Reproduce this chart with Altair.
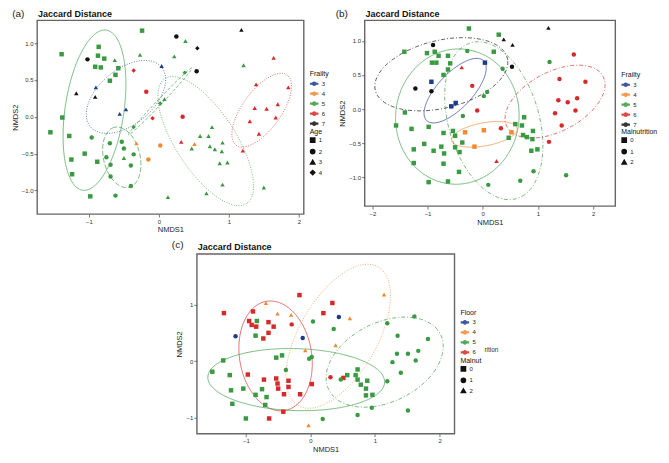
import altair as alt
import numpy as np
import pandas as pd

FONT = "Liberation Sans"
COLORS = {"3": "#1d3b8b", "4": "#f08a35", "5": "#3a9a41", "6": "#d62a2a", "7": "#111111"}

# ---------------- Panel (a): colour = Frailty, shape/linetype = Age ----------------
A_X = [-0.24, -1.39, -0.86, -0.87, -0.78, -0.91, -0.83, -0.58, -0.62, -0.70,
       -1.02, -0.63, -0.27, -0.36, 0.04, -0.90, -1.18, -0.91, -0.18, -0.47,
       -0.56, -0.09, 0.08, 0.02, -1.38, -1.55, -1.28, -0.96, -1.06, -1.25,
       -0.88, -1.24, -0.98, -0.62, -0.70, -0.53, -0.50, -0.75, -0.69, -0.69,
       -0.50, -0.36, -0.40, -0.40, -0.36, -0.32, 0.02, -0.15, 0.13, 0.25,
       0.38, 0.22, 0.55, 0.54, 0.37, 1.18, 1.21, 1.64, 1.39, 1.85,
       1.37, 1.54, 1.70, 1.30, 1.67, 1.43, 1.20, 0.34, 0.32, 0.51,
       0.47, 0.76, 0.59, 0.71, 0.91, 0.73, 0.80, 0.90, 0.87, 0.98,
       0.91, 0.68, 1.50]
A_Y = [1.17, 0.85, 0.95, 0.83, 0.79, 0.68, 0.67, 0.66, 0.57, 0.49,
       0.78, 0.77, 0.84, 0.63, 0.69, 0.40, 0.32, 0.27, 0.34, 0.10,
       0.04, -0.02, 0.24, 0.18, -0.01, -0.21, -0.26, -0.28, -0.50, -0.58,
       -0.61, -0.78, -1.08, -1.07, -0.36, -0.34, -0.43, -0.55, -0.65, -0.81,
       -0.56, -0.51, -0.66, -0.94, -0.14, -0.36, -0.39, -0.58, -1.09, 1.09,
       1.03, 0.82, 0.93, 0.62, 0.60, 1.18, 0.70, 0.80, 0.44, 0.40,
       0.12, 0.11, 0.17, -0.06, -0.01, -0.23, -0.46, 0.00, -0.34, -0.37,
       -0.43, -0.14, -0.26, -0.26, -0.35, -0.40, -0.44, -0.47, -0.63, -0.62,
       -0.92, -1.04, -0.96]
A_FRAILTY = [5, 5, 5, 5, 5, 5, 5, 5, 5, 5,
             7, 5, 5, 6, 3, 3, 7, 7, 6, 3,
             3, 6, 5, 5, 5, 5, 5, 5, 5, 5,
             5, 5, 5, 5, 5, 5, 5, 5, 5, 5,
             5, 5, 5, 5, 5, 4, 4, 4, 5, 7,
             5, 5, 7, 7, 5, 7, 5, 6, 6, 6,
             6, 6, 6, 6, 6, 6, 6, 6, 6, 4,
             5, 5, 5, 5, 5, 5, 5, 5, 5, 5,
             5, 5, 5]
A_AGE = [1, 1, 1, 1, 1, 1, 1, 1, 1, 1,
         2, 3, 3, 4, 3, 3, 3, 3, 2, 3,
         3, 4, 3, 4, 1, 1, 1, 2, 1, 1,
         1, 1, 1, 2, 2, 2, 2, 2, 2, 2,
         3, 2, 2, 2, 4, 3, 2, 2, 3, 2,
         3, 3, 4, 2, 4, 3, 3, 3, 3, 3,
         3, 3, 3, 3, 3, 3, 3, 2, 3, 3,
         3, 3, 3, 3, 3, 3, 3, 3, 3, 3,
         3, 3, 3]
# ellipses (centre, semi-axes, angle in degrees, group, linetype)
A_ELL_CX = [-0.92, -0.53, -0.47, 0.67, 1.47, 0.02]
A_ELL_CY = [0.09, -0.55, 0.27, -0.33, 0.09, 0.21]
A_ELL_A = [1.10, 0.42, 0.65, 1.03, 0.60, 0.64]
A_ELL_B = [0.42, 0.26, 0.38, 0.42, 0.27, 0.035]
A_ELL_ANG = [81, 105, 37, -55, 52, 45]
A_ELL_GRP = [5, 5, 3, 5, 6, 5]
A_ELL_LT = [1, 2, 3, 3, 3, 4]

# ---------------- Panel (b): colour = Frailty, shape/linetype = Malnutrition ----------------
B_X = [-0.25, -1.42, -0.90, -1.01, -0.87, -0.80, -0.63, -0.92, -0.84, -0.59,
       -0.71, -0.63, -0.38, 0.04, -0.93, -1.22, -0.93, -0.19, 0.08, 0.02,
       -0.49, -0.57, -0.10, -1.41, -1.57, -1.29, -0.98, -0.71, -0.36, -0.54,
       -0.50, -0.32, 0.02, -0.15, -0.37, -1.06, -1.25, -0.89, -0.75, -0.70,
       -0.50, -0.42, -1.25, -0.71, -0.43, -0.98, -0.63, 0.10, -0.28, 0.29,
       0.38, 0.54, 1.19, 0.20, 0.36, 0.53, 1.21, 1.65, 1.39, 1.86,
       1.37, 1.54, 1.71, 1.31, 1.68, 1.43, 1.20, 0.33, 0.52, 0.47,
       0.75, 0.59, 0.71, 0.91, 0.73, 0.80, 0.90, 0.88, 0.99, 0.92,
       0.68, 1.51, 0.25]
B_Y = [1.18, 0.84, 0.94, 0.82, 0.84, 0.78, 0.78, 0.68, 0.68, 0.67,
       0.50, 0.58, 0.61, 0.68, 0.40, 0.30, 0.26, 0.34, 0.25, 0.19,
       0.09, 0.04, -0.02, -0.05, -0.24, -0.29, -0.26, -0.35, -0.10, -0.32,
       -0.39, -0.34, -0.31, -0.55, -0.49, -0.51, -0.59, -0.61, -0.55, -0.65,
       -0.56, -0.63, -0.79, -0.80, -0.92, -1.07, -1.06, -1.11, 0.85, 1.09,
       1.02, 0.94, 1.19, 0.84, 0.59, 0.62, 0.69, 0.80, 0.44, 0.40,
       0.13, 0.10, 0.16, -0.06, -0.02, -0.24, -0.48, -0.28, -0.34, -0.42,
       -0.12, -0.22, -0.24, -0.32, -0.38, -0.41, -0.44, -0.61, -0.59, -0.91,
       -1.05, -0.97, -0.76]
B_FRAILTY = [5, 5, 7, 5, 5, 5, 5, 5, 5, 5,
             5, 5, 6, 3, 3, 7, 7, 6, 5, 5,
             3, 3, 6, 5, 5, 5, 5, 5, 5, 5,
             5, 4, 4, 4, 5, 5, 5, 5, 5, 5,
             5, 5, 5, 5, 5, 5, 5, 5, 5, 5,
             7, 7, 7, 5, 5, 7, 5, 6, 6, 6,
             6, 6, 6, 6, 6, 6, 6, 6, 4, 5,
             5, 5, 5, 5, 5, 5, 5, 5, 5, 5,
             5, 5, 6]
B_MALNUT = [0, 0, 1, 0, 0, 0, 0, 0, 0, 0,
            0, 0, 2, 0, 0, 1, 1, 1, 1, 1,
            0, 0, 1, 0, 0, 0, 0, 0, 1, 0,
            0, 0, 0, 0, 0, 0, 0, 0, 0, 0,
            0, 0, 0, 0, 0, 0, 0, 1, 1, 0,
            2, 2, 2, 0, 1, 1, 1, 1, 1, 1,
            1, 1, 1, 1, 1, 1, 1, 1, 0, 0,
            0, 0, 0, 0, 0, 0, 0, 0, 0, 1,
            1, 1, 2]
B_ELL_CX = [-0.75, -0.50, -0.46, 0.20, 0.03, 1.31]
B_ELL_CY = [0.51, 0.27, -0.11, -0.17, -0.37, 0.11]
B_ELL_A = [1.22, 0.68, 1.12, 1.22, 0.60, 0.95]
B_ELL_B = [0.50, 0.28, 0.99, 0.80, 0.17, 0.45]
B_ELL_ANG = [10, 38, 5, -65, 8, 20]
B_ELL_GRP = [7, 3, 5, 5, 4, 6]
B_ELL_LT = [1, 0, 0, 1, 0, 1]

# ---------------- Panel (c): colour = Floor, shape/linetype = Malnutrition ----------------
C_X = [-0.17, -1.34, -0.69, -0.89, -0.51, -0.30, -0.95, -0.83, -0.91, -0.84,
       -0.65, -0.57, -0.65, -0.73, -0.85, -0.29, -1.16, -0.12, 0.20, 0.04,
       -0.08, 0.02, -0.02, -0.53, -0.44, -1.35, -1.52, -1.25, -0.97, -0.38,
       -1.23, -1.04, -0.72, -0.53, -0.51, -0.34, -0.50, -0.34, -0.75, -0.85,
       -0.68, -0.41, -0.16, 0.02, -1.21, -0.70, -0.42, -1.00, -0.64, -0.03,
       0.19, 0.34, 1.14, 0.44, 0.61, 0.36, 0.39, 1.19, 1.61, 1.35,
       1.82, 1.34, 1.51, 1.67, 1.27, 1.63, 1.40, 1.19, 0.31, 0.51,
       0.47, 0.57, 0.70, 0.73, 0.73, 0.88, 0.78, 0.86, 0.86, 0.96,
       0.95, 0.73, 1.51]
C_Y = [1.17, 0.85, 1.03, 0.88, 0.84, 0.82, 0.71, 0.71, 0.64, 0.61,
       0.69, 0.61, 0.50, 0.40, 0.45, 0.65, 0.44, 0.41, 0.85, 0.70,
       0.19, 0.07, 0.04, 0.06, 0.10, 0.01, -0.19, -0.25, -0.24, -0.16,
       -0.52, -0.49, -0.33, -0.31, -0.40, -0.35, -0.49, -0.46, -0.50, -0.60,
       -0.64, -0.59, -0.59, -0.41, -0.76, -0.78, -0.90, -1.02, -1.02, -1.14,
       -1.03, 1.03, 1.18, 0.78, 0.76, 0.57, 0.28, 0.67, 0.79, 0.45,
       0.39, 0.13, 0.13, 0.18, -0.02, 0.01, -0.21, -0.36, -0.29, -0.30,
       -0.33, -0.25, -0.25, -0.15, -0.33, -0.35, -0.42, -0.49, -0.61, -0.60,
       -0.83, -0.96, -0.88]
C_FLOOR = [6, 6, 4, 6, 4, 4, 6, 5, 6, 6,
           6, 6, 6, 6, 5, 6, 3, 3, 6, 5,
           4, 5, 5, 5, 5, 5, 5, 5, 6, 5,
           5, 5, 6, 6, 6, 6, 6, 6, 5, 5,
           5, 6, 6, 6, 5, 5, 6, 5, 6, 4,
           5, 6, 4, 3, 4, 5, 4, 5, 5, 5,
           5, 5, 5, 5, 5, 5, 5, 5, 6, 6,
           5, 5, 5, 5, 5, 5, 5, 5, 5, 5,
           5, 5, 5]
C_MALNUT = [0, 0, 2, 0, 2, 2, 0, 0, 0, 0,
            0, 0, 0, 0, 0, 1, 1, 1, 0, 1,
            2, 1, 1, 0, 0, 0, 0, 0, 0, 1,
            0, 0, 0, 0, 0, 0, 0, 0, 0, 0,
            0, 0, 0, 0, 0, 0, 0, 0, 0, 2,
            1, 0, 2, 1, 2, 1, 2, 1, 1, 1,
            1, 1, 1, 1, 1, 1, 1, 1, 1, 0,
            1, 0, 0, 0, 0, 0, 0, 0, 0, 0,
            1, 1, 1]
C_ELL_CX = [-0.54, -0.22, 1.15, 0.43]
C_ELL_CY = [0.09, -0.33, -0.02, 0.44]
C_ELL_A = [0.98, 1.37, 1.00, 1.38]
C_ELL_B = [0.56, 0.55, 0.68, 0.62]
C_ELL_ANG = [97, -2, 35, 65]
C_ELL_GRP = [6, 5, 5, 4]
C_ELL_LT = [0, 0, 1, 2]

LEGEND_PATH = ("M-1,-0.1H-0.45V0.1H-1Z M0.45,-0.1H1V0.1H0.45Z "
               "M-0.45,0A0.45,0.45,0,1,0,0.45,0A0.45,0.45,0,1,0,-0.45,0Z")


def ellipse_frame(cx, cy, a, b, ang, grp, lt):
    rows = []
    t = np.linspace(0, 2 * np.pi, 121)
    for k in range(len(cx)):
        th = np.deg2rad(ang[k])
        ex = cx[k] + a[k] * np.cos(th) * np.cos(t) - b[k] * np.sin(th) * np.sin(t)
        ey = cy[k] + a[k] * np.sin(th) * np.cos(t) + b[k] * np.cos(th) * np.sin(t)
        for i in range(len(t)):
            rows.append({"x": ex[i], "y": ey[i], "grp": str(grp[k]),
                         "lt": "L" + str(lt[k]), "eid": k, "i": i})
    return pd.DataFrame(rows)


def panel(px, py, pgrp, psh, ell, xdom, ydom, xticks, yticks, yfmt, w, h,
          ctitle, cdom, stitle, sdom, shapes, dashes, label, label_x, label_y,
          title_y, leg1_y, leg2_y, extra=None):
    pdf = pd.DataFrame({"x": px, "y": py, "grp": [str(v) for v in pgrp],
                        "sh": [str(v) for v in psh]})
    edf = ellipse_frame(*ell)
    crange = [COLORS[c] for c in cdom]
    cscale = alt.Scale(domain=cdom, range=crange)
    x = alt.X("x:Q", scale=alt.Scale(domain=xdom, nice=False, zero=False),
              axis=alt.Axis(title="NMDS1", values=xticks, format="d"))
    y = alt.Y("y:Q", scale=alt.Scale(domain=ydom, nice=False, zero=False),
              axis=alt.Axis(title="NMDS2", values=yticks, format=yfmt))
    color_legend = alt.Legend(title=ctitle, orient="none", legendX=w + 6, legendY=leg1_y,
                              symbolType=LEGEND_PATH, symbolSize=49, rowPadding=-2,
                              titleColor="#111111", labelColor="#222222")
    ell_layer = alt.Chart(edf).mark_line(strokeWidth=0.8, opacity=0.85).encode(
        x=x, y=y,
        color=alt.Color("grp:N", scale=cscale, legend=color_legend),
        strokeDash=alt.StrokeDash("lt:N", scale=alt.Scale(domain=["L" + s for s in sdom],
                                                          range=dashes), legend=None),
        detail="eid:N", order="i:Q")
    pts = alt.Chart(pdf).mark_point(filled=True, size=20, opacity=1, strokeWidth=0).encode(
        x=x, y=y,
        color=alt.Color("grp:N", scale=cscale, legend=color_legend),
        shape=alt.Shape("sh:N", scale=alt.Scale(domain=sdom, range=shapes),
                        legend=alt.Legend(title=stitle, orient="none", legendX=w + 6,
                                          legendY=leg2_y, symbolSize=18,
                                          symbolFillColor="#111111",
                                          symbolStrokeColor="#111111", rowPadding=-0.5,
                                          titleColor="#111111", labelColor="#222222")))
    lab = alt.Chart(pd.DataFrame({"lab": [label]})).mark_text(
        align="left", baseline="bottom", fontSize=10, font=FONT, color="#222222").encode(
        text="lab:N", x=alt.value(label_x), y=alt.value(label_y))
    ttl = alt.Chart(pd.DataFrame({"ttl": ["Jaccard Distance"]})).mark_text(
        align="left", baseline="bottom", fontSize=9, fontWeight="bold", font=FONT,
        color="#111111").encode(text="ttl:N", x=alt.value(1), y=alt.value(title_y))
    layers = [ell_layer, pts, lab, ttl]
    if extra is not None:
        etext, ex_, ey_ = extra
        layers.append(alt.Chart(pd.DataFrame({"e": [etext]})).mark_text(
            align="left", baseline="middle", fontSize=6.5, font=FONT, color="#333333").encode(
            text="e:N", x=alt.value(ex_), y=alt.value(ey_)))
    return alt.layer(*layers).properties(width=w, height=h)


pa = panel(A_X, A_Y, A_FRAILTY, A_AGE,
           (A_ELL_CX, A_ELL_CY, A_ELL_A, A_ELL_B, A_ELL_ANG, A_ELL_GRP, A_ELL_LT),
           [-1.74, 2.07], [-1.32, 1.31], [-1, 0, 1, 2], [-1.0, -0.5, 0.0, 0.5, 1.0], ".1f",
           267, 194, "Frailty", ["3", "4", "5", "6", "7"], "Age", ["1", "2", "3", "4"],
           ["square", "circle", "triangle-up", "diamond"],
           [[1, 0], [5, 2], [1, 1.5], [3, 2]], "(a)", -25, -1, -1.5, 50, 108)

pb = panel(B_X, B_Y, B_FRAILTY, B_MALNUT,
           (B_ELL_CX, B_ELL_CY, B_ELL_A, B_ELL_B, B_ELL_ANG, B_ELL_GRP, B_ELL_LT),
           [-2.14, 2.40], [-1.42, 1.30], [-2, -1, 0, 1, 2], [-1.0, -0.5, 0.0, 0.5, 1.0], ".1f",
           251, 186, "Frailty", ["3", "4", "5", "6", "7"], "Malnutrition", ["0", "1", "2"],
           ["square", "circle", "triangle-up"],
           [[1, 0], [4, 2, 1, 2], [1, 1.5]], "(b)", -29, -1, -1.5, 51, 108)

pc = panel(C_X, C_Y, C_FLOOR, C_MALNUT,
           (C_ELL_CX, C_ELL_CY, C_ELL_A, C_ELL_B, C_ELL_ANG, C_ELL_GRP, C_ELL_LT),
           [-1.76, 2.23], [-1.29, 1.90], [-1, 0, 1, 2], [-1, 0, 1], "d",
           258, 180, "Floor", ["3", "4", "5", "6"], "Malnut", ["0", "1", "2"],
           ["square", "circle", "triangle-up"],
           [[1, 0], [4, 2, 1, 2], [1, 1.5]], "(c)", -25, -4, -1.5, 55, 103,
           extra=("rition", 258 + 30, 96))

indep = dict(color="independent", shape="independent", strokeDash="independent",
             x="independent", y="independent")

top = alt.hconcat(pa, pb, spacing=4).resolve_scale(**indep)
chart = alt.vconcat(top, pc, spacing=4, center=True).resolve_scale(**indep).properties(
    padding={"left": 2, "top": 0, "right": 2, "bottom": 0}
).configure_view(stroke="#666666", strokeWidth=1.4).configure_axis(
    grid=False, domain=False, tickSize=3, tickColor="#555555", tickWidth=0.8,
    labelFontSize=6, labelFont=FONT, labelColor="#333333", labelPadding=1,
    titleFontSize=7.5, titleFont=FONT, titleFontWeight="normal", titleColor="#222222",
    titlePadding=2
).configure_legend(
    titleFontSize=7, titleFont=FONT, titleFontWeight="normal", titleColor="#111111",
    labelFontSize=6, labelFont=FONT, labelColor="#222222",
    titlePadding=2, padding=0, labelOffset=3
)

chart.save("out.html", embed_options={"renderer": "svg", "actions": False})
